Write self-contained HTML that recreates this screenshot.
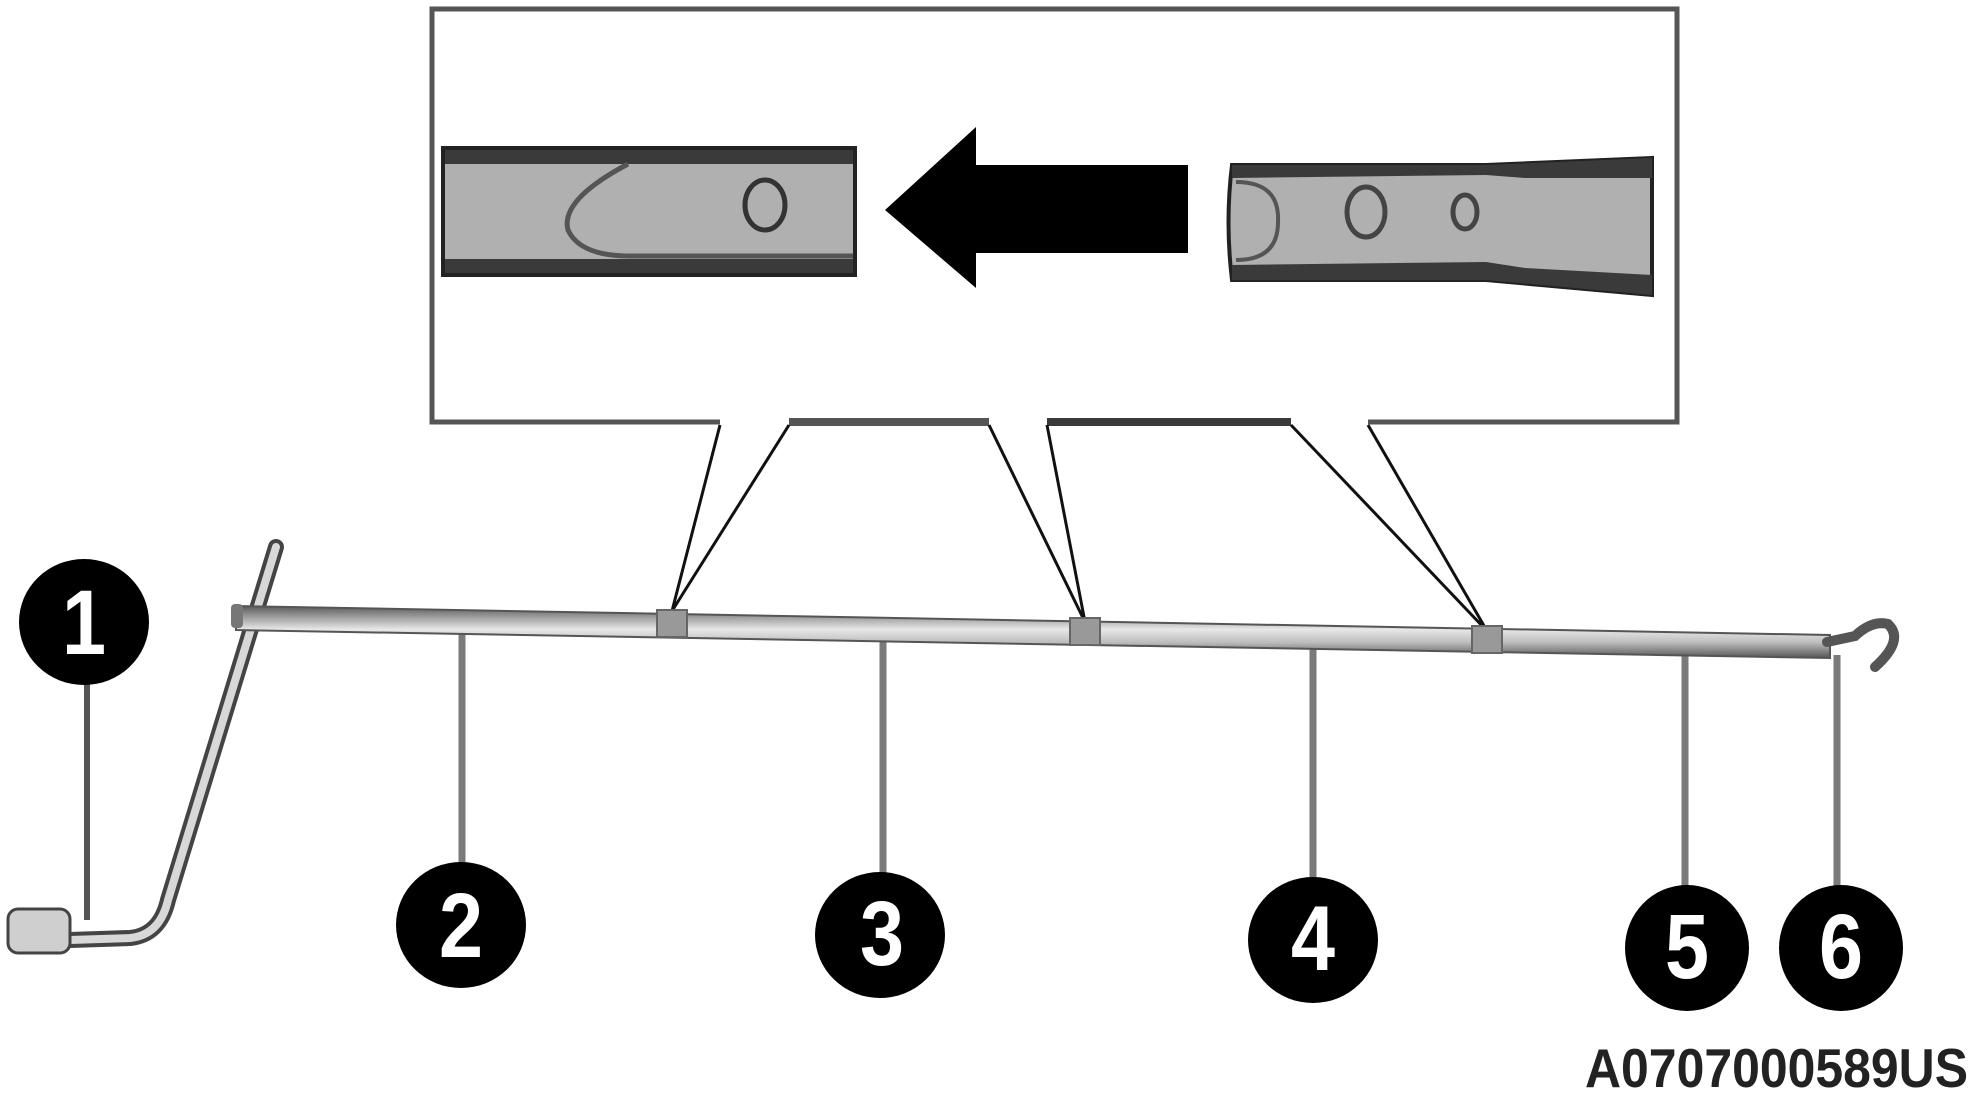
<!DOCTYPE html>
<html><head><meta charset="utf-8"><style>
html,body{margin:0;padding:0;background:#fff;}
svg{display:block;}
</style></head><body>
<svg width="1973" height="1093" viewBox="0 0 1973 1093" xmlns="http://www.w3.org/2000/svg">
<defs>
<linearGradient id="rod" x1="0" y1="0" x2="0" y2="1">
<stop offset="0" stop-color="#5a5a5a"/><stop offset="0.45" stop-color="#e8e8e8"/><stop offset="0.7" stop-color="#bdbdbd"/><stop offset="1" stop-color="#555"/>
</linearGradient>
</defs>
<polyline points="720,422 432,422 432,9 1677,9 1677,422 1368,422" fill="none" stroke="#555" stroke-width="5"/>
<line x1="789" y1="422" x2="989" y2="422" stroke="#555" stroke-width="8"/>
<line x1="1047" y1="422" x2="1291" y2="422" stroke="#3a3a3a" stroke-width="8"/>
<g stroke="#111" stroke-width="3" fill="none">
<polyline points="720,425 672,611 789,425"/>
<polyline points="989,425 1085,622 1047,425"/>
<polyline points="1291,425 1487,631 1368,425"/>
</g>
<rect x="443" y="148" width="412" height="127" fill="#b0b0b0" stroke="#222" stroke-width="4"/>
<rect x="445" y="150" width="408" height="14" fill="#3a3a3a"/>
<rect x="445" y="259" width="408" height="14" fill="#3a3a3a"/>
<path d="M628,164 Q560,200 568,230 Q580,256 630,256 L853,256" fill="none" stroke="#555" stroke-width="5"/>
<ellipse cx="765" cy="205" rx="20" ry="25" fill="none" stroke="#333" stroke-width="5"/>
<polygon points="885,210 976,127 976,165 1188,165 1188,253 976,253 976,288" fill="#000"/>
<path d="M1232,165 L1486,165 L1652,158 L1652,295 L1486,280 L1232,280 Q1225,222 1232,165 Z" fill="#b0b0b0" stroke="#222" stroke-width="4"/>
<path d="M1232,165 L1486,165 L1652,158 L1652,178 L1525,178 L1486,175 L1232,178 Z" fill="#3a3a3a"/>
<path d="M1232,280 L1486,280 L1652,295 L1652,275 L1525,268 L1486,262 L1232,265 Z" fill="#3a3a3a"/>
<path d="M1236,182 Q1280,182 1278,222 Q1278,260 1236,260" fill="none" stroke="#555" stroke-width="4"/>
<ellipse cx="1366" cy="212" rx="19" ry="25" fill="none" stroke="#444" stroke-width="5"/>
<ellipse cx="1465" cy="212" rx="12" ry="17" fill="none" stroke="#444" stroke-width="5"/>
<g stroke="#7a7a7a" stroke-width="7">
<line x1="87" y1="680" x2="87" y2="920" stroke="#555" stroke-width="6"/>
<line x1="462" y1="625" x2="462" y2="865"/>
<line x1="883" y1="637" x2="883" y2="875"/>
<line x1="1313" y1="647" x2="1313" y2="880"/>
<line x1="1685" y1="653" x2="1685" y2="888"/>
<line x1="1837" y1="655" x2="1837" y2="888"/>
</g>
<path d="M276,547 L168,900 Q160,935 130,938 L70,940" fill="none" stroke="#444" stroke-width="16" stroke-linecap="round"/>
<path d="M276,547 L168,900 Q160,935 130,938 L70,940" fill="none" stroke="#d8d8d8" stroke-width="8" stroke-linecap="round"/>
<rect x="8" y="909" width="62" height="44" rx="10" fill="#cfcfcf" stroke="#444" stroke-width="3"/>
<polygon points="236,606 1830,635 1830,658 236,630" fill="url(#rod)" stroke="#555" stroke-width="2"/>
<rect x="231" y="604" width="12" height="24" rx="4" fill="#777"/>
<g fill="#999" stroke="#666" stroke-width="2">
<rect x="657" y="610" width="30" height="27"/>
<rect x="1070" y="618" width="30" height="27"/>
<rect x="1472" y="626" width="30" height="27"/>
</g>
<path d="M1827,642 L1855,636 Q1872,620 1888,624 Q1905,640 1875,667" fill="none" stroke="#555" stroke-width="10" stroke-linecap="round"/>
<g fill="#000">
<ellipse cx="84" cy="622" rx="65" ry="63"/>
<ellipse cx="461" cy="925" rx="65" ry="63"/>
<ellipse cx="880" cy="935" rx="65" ry="63"/>
<ellipse cx="1313" cy="940" rx="65" ry="63"/>
<ellipse cx="1687" cy="948" rx="62" ry="63"/>
<ellipse cx="1841" cy="948" rx="62" ry="63"/>
</g>
<g fill="#fff" font-family="Liberation Sans, sans-serif" font-weight="bold" font-size="92" text-anchor="middle">
<text transform="translate(84,654) scale(0.86,1)">1</text>
<text transform="translate(461,957) scale(0.86,1)">2</text>
<text transform="translate(882,965) scale(0.86,1)">3</text>
<text transform="translate(1313,970) scale(0.86,1)">4</text>
<text transform="translate(1687,978) scale(0.86,1)">5</text>
<text transform="translate(1841,978) scale(0.86,1)">6</text>
</g>
<text x="1585" y="1087" font-family="Liberation Sans, sans-serif" font-weight="bold" font-size="55" textLength="383" lengthAdjust="spacingAndGlyphs" fill="#222">A0707000589US</text>
</svg>
</body></html>
